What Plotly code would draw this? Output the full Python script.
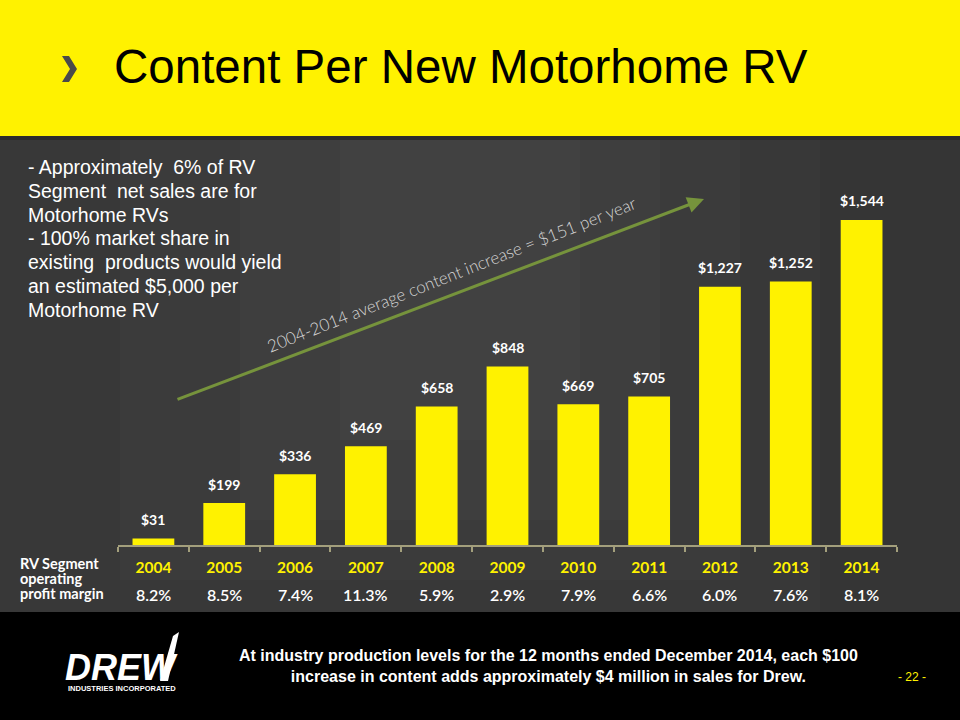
import plotly.graph_objects as go

W, H = 960, 720

years = ["2004", "2005", "2006", "2007", "2008", "2009", "2010", "2011", "2012", "2013", "2014"]
content = [31, 199, 336, 469, 658, 848, 669, 705, 1227, 1252, 1544]
margins = ["8.2%", "8.5%", "7.4%", "11.3%", "5.9%", "2.9%", "7.9%", "6.6%", "6.0%", "7.6%", "8.1%"]
value_labels = ["${:,}".format(v) for v in content]

notes = [
    "- Approximately  6% of RV",
    "Segment  net sales are for",
    "Motorhome RVs",
    "- 100% market share in",
    "existing  products would yield",
    "an estimated $5,000 per",
    "Motorhome RV",
]
margin_heading = ["RV Segment", "operating", "profit margin"]
arrow_text = "2004-2014 average content increase = $151 per year"
footer_text = ("At industry production levels for the 12 months ended December 2014, each $100<br>"
               "increase in content adds approximately $4 million in sales for Drew.")

YELLOW = "#fff200"
GREEN = "#76933c"


def px(x):
    return x / W


def py(y):
    return 1 - y / H


def path(points):
    return "M " + " L ".join("{:.5f} {:.5f}".format(px(x), py(y)) for x, y in points) + " Z"


def note(x, y, text, **kw):
    # text placed in page pixels (from top-left)
    d = dict(x=px(x), y=py(y), xref="paper", yref="paper", text=text, showarrow=False)
    d.update(kw)
    return d


fig = go.Figure()
fig.add_trace(go.Bar(x=years, y=content, marker=dict(color=YELLOW, line=dict(width=0)),
                     hoverinfo="x+y", showlegend=False))

shapes = [
    # header, divider, footer
    dict(type="rect", x0=0, x1=1, y0=py(136), y1=1, fillcolor=YELLOW, line_width=0),
    dict(type="rect", x0=0, x1=1, y0=py(140), y1=py(136), fillcolor="#2b2b2b", line_width=0),
    dict(type="rect", x0=0, x1=1, y0=0, y1=py(612), fillcolor="#000000", line_width=0),
    # soft lighter centre of the panel
    dict(type="rect", x0=px(0), x1=px(820), y0=py(612), y1=py(140), fillcolor="#ffffff", opacity=0.02, line_width=0),
    dict(type="rect", x0=px(120), x1=px(740), y0=py(580), y1=py(140), fillcolor="#ffffff", opacity=0.02, line_width=0),
    dict(type="rect", x0=px(240), x1=px(660), y0=py(520), y1=py(140), fillcolor="#ffffff", opacity=0.02, line_width=0),
    dict(type="rect", x0=px(340), x1=px(580), y0=py(440), y1=py(140), fillcolor="#ffffff", opacity=0.015, line_width=0),
    # title chevron
    dict(type="path", path=path([(62, 56), (69, 56), (77, 69), (69, 82), (62, 82), (70, 69)]),
         fillcolor="#4a4a4a", line_width=0),
    # logo stroke
    dict(type="path", path=path([(160, 681), (168, 681), (179, 632), (173, 636)]),
         fillcolor="#ffffff", line_width=0),
]
for s in shapes:
    s["xref"] = "paper"
    s["yref"] = "paper"
    s["layer"] = "below"

annotations = []
annotations.append(note(112, 66, "Content Per New Motorhome RV", xanchor="left", yanchor="middle",
                        font=dict(family="Liberation Sans, Arial", size=47.5, color="#000000")))

for i, line in enumerate(notes):
    annotations.append(note(26, 167 + i * 23.8, line, xanchor="left", yanchor="middle",
                            font=dict(family="Liberation Sans, Arial", size=19.5, color="#ffffff")))

# category axis: annotations use the category index
for i, (v, lab) in enumerate(zip(content, value_labels)):
    annotations.append(dict(x=i, y=v, xref="x", yref="y", text=lab, showarrow=False,
                            yshift=19, xanchor="center", yanchor="middle",
                            font=dict(family="Lato", size=14, color="#ffffff", weight="bold")))

for i, m in enumerate(margins):
    annotations.append(dict(x=i, y=py(594), xref="x", yref="paper", text=m, showarrow=False,
                            xanchor="center", yanchor="middle",
                            font=dict(family="Lato", size=16, color="#ffffff", weight=600)))

for i, line in enumerate(margin_heading):
    annotations.append(note(18, 563 + i * 15.3, line, xanchor="left", yanchor="middle",
                            font=dict(family="Lato", size=14.5, color="#ffffff", weight="bold")))

# trend arrow and its label
annotations.append(dict(x=px(704), y=py(199), ax=176 - 704, ay=400 - 199, xref="paper", yref="paper",
                        axref="pixel", ayref="pixel", text="", showarrow=True,
                        arrowhead=2, arrowsize=1.1, arrowwidth=3, arrowcolor=GREEN))
annotations.append(note(451, 274, arrow_text, textangle=-21.5, xanchor="center", yanchor="middle",
                        font=dict(family="Lato", size=17, color="#d6d6d6", weight=300)))

# footer
annotations.append(note(548, 666, footer_text, xanchor="center", yanchor="middle",
                        font=dict(family="Liberation Sans, Arial", size=16, color="#ffffff", weight="bold")))
annotations.append(note(912, 677, "- 22 -", xanchor="center", yanchor="middle",
                        font=dict(family="Liberation Sans, Arial", size=12, color=YELLOW)))
annotations.append(note(63, 667, "<i>DREW</i>", xanchor="left", yanchor="middle",
                        font=dict(family="Liberation Sans, Arial", size=36, color="#ffffff", weight="bold")))
annotations.append(note(122, 688, "INDUSTRIES INCORPORATED", xanchor="center", yanchor="middle",
                        font=dict(family="Liberation Sans, Arial", size=7.5, color="#ffffff", weight="bold")))

fig.update_layout(
    width=W, height=H,
    autosize=False,
    margin=dict(l=0, r=0, t=0, b=0),
    paper_bgcolor="#353535",
    plot_bgcolor="rgba(0,0,0,0)",
    bargap=0.41,
    shapes=shapes,
    annotations=annotations,
    xaxis=dict(domain=[px(118), px(897)], type="category", range=[-0.5, len(years) - 0.5],
               showline=True, linecolor="#a39f7c", linewidth=1.5, ticks="outside",
               tickson="boundaries", ticklen=5, tickcolor="#a39f7c", tickwidth=1.5,
               showgrid=False, zeroline=False, ticklabelstandoff=8, tickangle=0,
               tickfont=dict(family="Lato", size=15.5, color=YELLOW, weight="bold"), fixedrange=True),
    yaxis=dict(domain=[py(545), py(208.2)], range=[0, 1600], visible=False, showgrid=False,
               zeroline=False, fixedrange=True),
)

fig.write_html("out.html", config=dict(displayModeBar=False, responsive=False),
               post_script="document.body.style.margin='0';document.body.style.overflow='hidden';")
